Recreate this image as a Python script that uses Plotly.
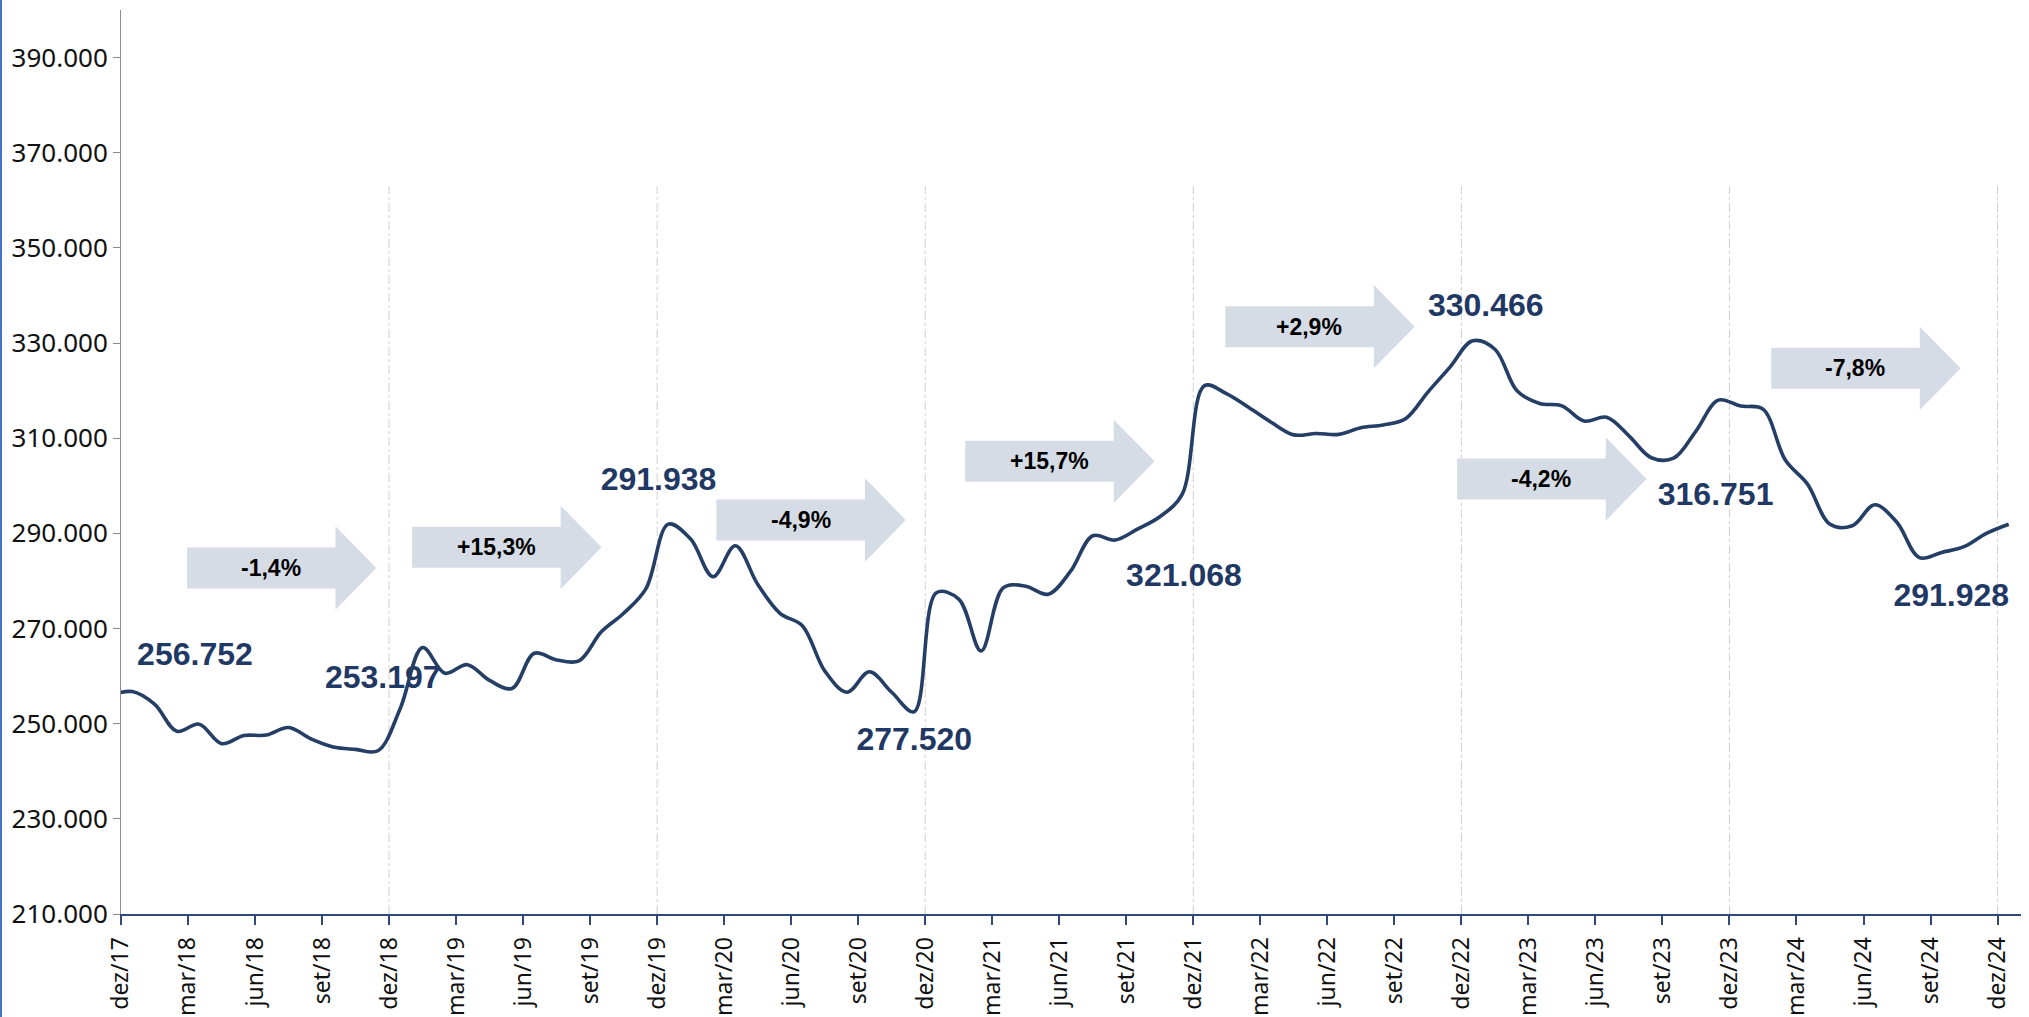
import numpy as np
import plotly.graph_objects as go

# ---------------- data ----------------
month_abbr = ["jan", "fev", "mar", "abr", "mai", "jun", "jul", "ago", "set", "out", "nov", "dez"]
# monthly labels from nov/17 to dez/24
month_labels = ["nov/17", "dez/17"] + [f"{m}/{y:02d}" for y in range(18, 25) for m in month_abbr]

# monthly series (nov/17 ... dez/24)
values = [
    255900, 256752,
    254100, 248400, 249900, 245800, 247500, 247600, 249200, 246800, 245100, 244600, 244300, 253197,
    266000, 260600, 262400, 259100, 257400, 264800, 263400, 263200, 269300, 273200, 278400, 291938,
    288800, 280900, 287400, 279300, 273200, 270600, 261100, 256600, 260900, 256600, 252500, 277520,
    276200, 265300, 278600, 278900, 277200, 282000, 289500, 288600, 290900, 293500, 298200, 321068,
    319300, 316400, 313300, 310700, 311000, 310800, 312200, 312800, 314100, 319700, 325000, 330466,
    328700, 319900, 317300, 316800, 313600, 314400, 310500, 305900, 305800, 311500, 318000, 316751,
    316100, 305400, 300300, 291900, 291600, 296000, 292300, 284900, 286000, 287200, 290000, 291928,
]

y_ticks = list(range(210000, 390001, 20000))

# ---------------- layout helpers (positions, not data) ----------------
# value labels: (tick-month position, y position)
label_pos_x = [3.31, 11.72, 24.06, 35.51, 47.58, 61.09, 71.38, 81.93]
label_pos_y = [264016, 259182, 300798, 246151, 280620, 337369, 297645, 276417]
# arrows: left edge (tick-month units) and vertical centre
arrow_left = [2.95, 13.03, 26.65, 37.79, 49.43, 59.81, 73.87]
arrow_mid = [282722, 287073, 292811, 305146, 333438, 301428, 324694]
ARROW_LEN, HEAD_LEN, BODY_H, HEAD_H, TEXT_OFF = 8.48, 1.83, 4310, 8750, 3.77

NAVY = "#243E66"
LABEL_BLUE = "#1F3864"
ARROW_FILL = "#D6DCE5"

# ---------------- derived ----------------
n = len(values)
x_pos = np.arange(n) - 0.5            # points centred between month ticks
dec_idx = [i for i, lab in enumerate(month_labels) if lab.startswith("dez")]
dec_vals = [values[i] for i in dec_idx]
tick_idx = [i for i in range(1, n) if (i - 1) % 3 == 0]
tick_vals = [i - 1 for i in tick_idx]
tick_text = [month_labels[i] for i in tick_idx]

def fmt_int(v):
    return f"{v:,}".replace(",", ".")

def fmt_pct(a, b):
    p = (b / a - 1) * 100
    s = f"{p:+.1f}".replace(".", ",")
    return s + "%"

label_text = [fmt_int(v) for v in dec_vals]
pct_text = [fmt_pct(dec_vals[i], dec_vals[i + 1]) for i in range(len(dec_vals) - 1)]

fig = go.Figure()

# value labels (under the line)
fig.add_trace(go.Scatter(
    x=label_pos_x, y=label_pos_y, mode="text", text=label_text,
    textposition="middle center",
    textfont=dict(family="Liberation Sans, Arial, sans-serif", size=32, color=LABEL_BLUE, weight="bold"),
    hoverinfo="skip", showlegend=False,
))

fig.add_trace(go.Scatter(
    x=x_pos, y=values, mode="lines",
    line=dict(color=NAVY, width=3.6, shape="spline", smoothing=1.0),
    showlegend=False,
))

shapes = []
# dashed separators at december ticks
for i in dec_idx[1:]:
    xv = i - 1
    shapes.append(dict(type="line", xref="x", yref="y", x0=xv, x1=xv, y0=210000, y1=363000,
                       line=dict(color="#D0D0D0", width=1, dash="dashdot"), layer="below"))

annotations = []
for xl, ym, txt in zip(arrow_left, arrow_mid, pct_text):
    xh = xl + ARROW_LEN - HEAD_LEN
    xt = xl + ARROW_LEN
    path = (f"M {xl},{ym - BODY_H} L {xh},{ym - BODY_H} L {xh},{ym - HEAD_H} L {xt},{ym} "
            f"L {xh},{ym + HEAD_H} L {xh},{ym + BODY_H} L {xl},{ym + BODY_H} Z")
    shapes.append(dict(type="path", xref="x", yref="y", path=path, fillcolor=ARROW_FILL,
                       line=dict(width=0), layer="below"))
    annotations.append(dict(x=xl + TEXT_OFF, y=ym, xref="x", yref="y", text=txt, showarrow=False,
                            xanchor="center", yanchor="middle",
                            font=dict(family="Liberation Sans Narrow, Arial Narrow, Liberation Sans, sans-serif",
                                      size=23, color="#000000", weight="bold")))

# thin blue border at the far left of the picture
shapes.append(dict(type="line", xref="paper", yref="paper", x0=-120 / 1900, x1=-120 / 1900,
                   y0=-103 / 904, y1=1 + 10 / 904, line=dict(color="#4472C4", width=2), layer="above"))

fig.update_layout(
    width=2029, height=1017,
    margin=dict(l=121, r=8, t=10, b=103),
    paper_bgcolor="white", plot_bgcolor="white",
    separators=",.",
    shapes=shapes, annotations=annotations,
    showlegend=False,
)

fig.update_xaxes(
    range=[0, 85.05], showgrid=False, zeroline=False, automargin=False,
    showline=True, linecolor="#2F4A7A", linewidth=2,
    ticks="outside", ticklen=9, tickwidth=2, tickcolor="#2F4A7A",
    tickmode="array", tickvals=tick_vals, ticktext=tick_text, tickangle=-90,
    ticklabelstandoff=3,
    tickfont=dict(family="Noto Sans, DejaVu Sans, sans-serif", size=23, color="#111111"),
)
fig.update_yaxes(
    range=[210000, 400000], showgrid=False, zeroline=False, automargin=False,
    showline=True, linecolor="#8C8C8C", linewidth=1,
    ticks="outside", ticklen=7, tickwidth=1, tickcolor="#8C8C8C",
    tickmode="array", tickvals=y_ticks, tickformat=",d",
    tickfont=dict(family="Noto Sans, DejaVu Sans, sans-serif", size=26, color="#111111"),
)

fig.write_html("out.html", config={"displayModeBar": False},
               post_script="document.body.style.margin='0px';document.body.style.padding='0px';")
